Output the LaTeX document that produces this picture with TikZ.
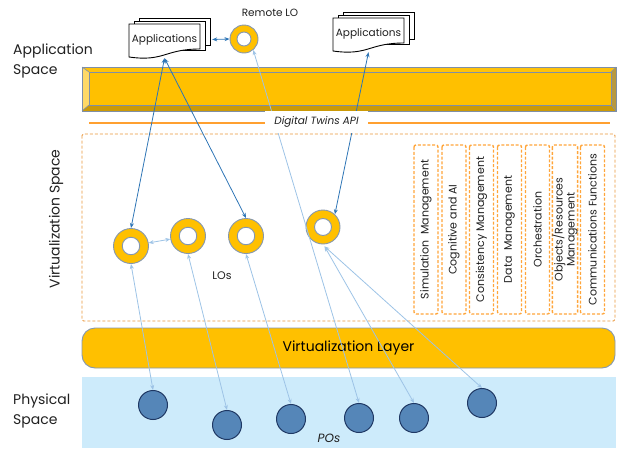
\documentclass[tikz,border=0pt]{standalone}
\usepackage{fontspec}
\setmainfont{Poppins}
\usetikzlibrary{arrows.meta}
\definecolor{gold}{HTML}{FFC000}
\definecolor{goldlight}{HTML}{FFD966}
\definecolor{goldtop}{HTML}{FFC20A}
\definecolor{golddark}{HTML}{CC9A06}
\definecolor{goldright}{HTML}{B8993F}
\definecolor{edgegray}{HTML}{7F8FA6}
\definecolor{ringgray}{HTML}{8497B0}
\definecolor{dashorange}{HTML}{E9963A}
\definecolor{funcorange}{HTML}{FFA53A}
\definecolor{apiorange}{HTML}{FFA030}
\definecolor{physblue}{HTML}{CDEBFB}
\definecolor{pofill}{HTML}{5586B8}
\definecolor{poedge}{HTML}{1F3864}
\definecolor{darkarrow}{HTML}{2E75B6}
\definecolor{lightarrow}{HTML}{9DC3E6}
\definecolor{txt}{HTML}{202020}
\newcommand\fs[2]{\fontsize{#1}{#2}\selectfont}
\newcommand\docstack[3]{%
  \draw[docline] (#1+10.5,#2-6) rectangle (#1+81.5,#2+21);
  \draw[docline] (#1+5,#2-3) rectangle (#1+76,#2+26);
  \draw[docline] (#1,#2) -- (#1+71,#2) -- (#1+71,#2+25) .. controls (#1+35.5,#2+25) and (#1+35.5,#2+38) .. (#1,#2+33) -- cycle;
  \node[apptext] (#3) at (#1+35.5,#2+15.5) {Applications};
}
\begin{document}
\begin{tikzpicture}[x=1pt,y=-1pt,
  lbl/.style={inner sep=0pt, text=txt},
  lo/.style={circle, draw=ringgray, line width=0.9pt, fill=gold, inner sep=0pt, minimum size=#1},
  hole/.style={circle, draw=ringgray, line width=0.9pt, fill=white, inner sep=0pt, minimum size=#1},
  po/.style={circle, draw=poedge, line width=1pt, fill=pofill, inner sep=0pt, minimum size=29pt},
  func/.style={draw=funcorange, line width=1.4pt, dash pattern=on 3pt off 1.8pt, rounded corners=2pt,
    rotate=90, minimum width=169pt, minimum height=24pt, inner sep=0pt, align=center, font=\fs{11}{12}, text=txt},
  darkarr/.style={draw=darkarrow, line width=0.8pt, arrows={Stealth[length=5pt,width=4pt]-Stealth[length=5pt,width=4pt]}},
  lightarr/.style={draw=lightarrow, line width=0.8pt, arrows={Stealth[length=5pt,width=4pt]-Stealth[length=5pt,width=4pt]}},
  docline/.style={draw=black, line width=0.9pt, fill=white},
  apptext/.style={inner sep=0pt, minimum width=71pt, minimum height=33pt, font=\fs{10.5}{12}, text=txt},
]
\useasboundingbox (0,0) rectangle (618,450);

% physical space background
\fill[physblue] (82,377) rectangle (616,448);

% virtualization layer
\node[draw=ringgray, line width=0.9pt, fill=gold, rounded corners=13pt, minimum width=533pt,
  minimum height=40pt, inner sep=0pt, font=\fs{14}{16}, text=black] (vlayer) at (348.5,348) {Virtualization Layer};

% application bar (bevel)
\fill[goldtop] (82,67) -- (616,67) -- (611,72) -- (89,72) -- cycle;
\fill[goldlight] (82,67) -- (89,72) -- (89,105) -- (82,111) -- cycle;
\fill[golddark] (82,111) -- (89,105) -- (611,105) -- (616,111) -- cycle;
\fill[goldright] (616,67) -- (611,72) -- (611,105) -- (616,111) -- cycle;
\draw[edgegray, line width=1pt, fill=gold] (89,72) rectangle (611,105);
\draw[edgegray, line width=1pt] (82,67) rectangle (616,111);
\draw[edgegray, line width=0.6pt] (82,67) -- (89,72) (616,67) -- (611,72) (82,111) -- (89,105) (616,111) -- (611,105);

% API line
\draw[apiorange, line width=1.3pt] (89,123) -- (610,123);

% virtualization dashed box
\draw[dashorange, line width=0.9pt, dash pattern=on 3pt off 2pt, rounded corners=1.5pt] (82,134) rectangle (615,321);

% function boxes
\node[func] (f1) at (426,229.5) {Simulation\ \ Management};
\node[func] (f2) at (454,229.5) {Cognitive and AI};
\node[func] (f3) at (481.5,229.5) {Consistency Management};
\node[func] (f4) at (509.5,229.5) {Data\ \ Management};
\node[func] (f5) at (537.5,229.5) {Orchestration};
\node[func] (f6) at (565,229.5) {Objects/Resources\\Management};
\node[func] (f7) at (592.5,229.5) {Communications Functions};

% side labels
\node[lbl, align=left, anchor=west, font=\fs{14}{19.5}] (aslabel) at (13,61) {Application\\Space};
\node[lbl, rotate=90, font=\fs{14}{16}] (vslabel) at (56,219) {Virtualization Space};
\node[lbl, align=left, anchor=west, font=\fs{14}{19.5}] (pslabel) at (13,411) {Physical\\Space};

% LOs
\node[lo=35pt] (lo1) at (131,246) {}; \node[hole=17.5pt] (lo1h) at (lo1) {};
\node[lo=35pt] (lo2) at (188,236) {}; \node[hole=17.5pt] (lo2h) at (lo2) {};
\node[lo=35pt] (lo3) at (246,236) {}; \node[hole=17.5pt] (lo3h) at (lo3) {};
\node[lo=34pt] (lo4) at (323,227) {}; \node[hole=17pt] (lo4h) at (lo4) {};
\node[lo=28pt] (rlo) at (244,39) {}; \node[hole=14pt] (rloh) at (rlo) {};
\node[lbl, font=\fs{10.5}{12}] (rlolabel) at (270,13) {Remote LO};
\node[lbl, font=\fs{11}{12}] (loslabel) at (222,276) {LOs};

% POs
\node[po] (po1) at (153,405) {};
\node[po] (po2) at (227,425) {};
\node[po] (po3) at (291,419) {};
\node[po] (po4) at (359,418) {};
\node[po] (po5) at (414,418) {};
\node[po] (po6) at (482,403) {};
\node[lbl, font=\itshape\fs{12}{14}] (poslabel) at (329,438) {POs};

% applications
\docstack{129}{24}{app1}
\docstack{333}{18}{app2}

% connectors
\coordinate (a1b) at ([yshift=-2pt]app1.south);
\draw[darkarr] ([xshift=12pt]app1.east) -- (rlo.west);
\draw[darkarr] (a1b) -- (lo1.north);
\draw[darkarr] (a1b) -- (lo3.north);
\draw[darkarr] ([yshift=-2pt]app2.south) -- (lo4.47);
\draw[lightarr] (lo1) -- (lo2);
\draw[lightarr] (lo1.south) -- (po1.north);
\draw[lightarr] (lo2.south) -- (po2.north);
\draw[lightarr] (lo3.south) -- (po3.north);
\draw[lightarr] (rlo.-50) -- (po4.north);
\draw[lightarr] ([yshift=-2pt]lo4.-85) -- (po5.north);
\draw[lightarr] ([yshift=-2pt]lo4.-85) -- (po6.north);

% API label masking lines
\node[fill=white, inner sep=0pt, minimum width=103pt, minimum height=22pt,
  font=\itshape\fs{10.5}{12}, text=txt] (api) at (316.5,122) {Digital Twins API};
\end{tikzpicture}
\end{document}
